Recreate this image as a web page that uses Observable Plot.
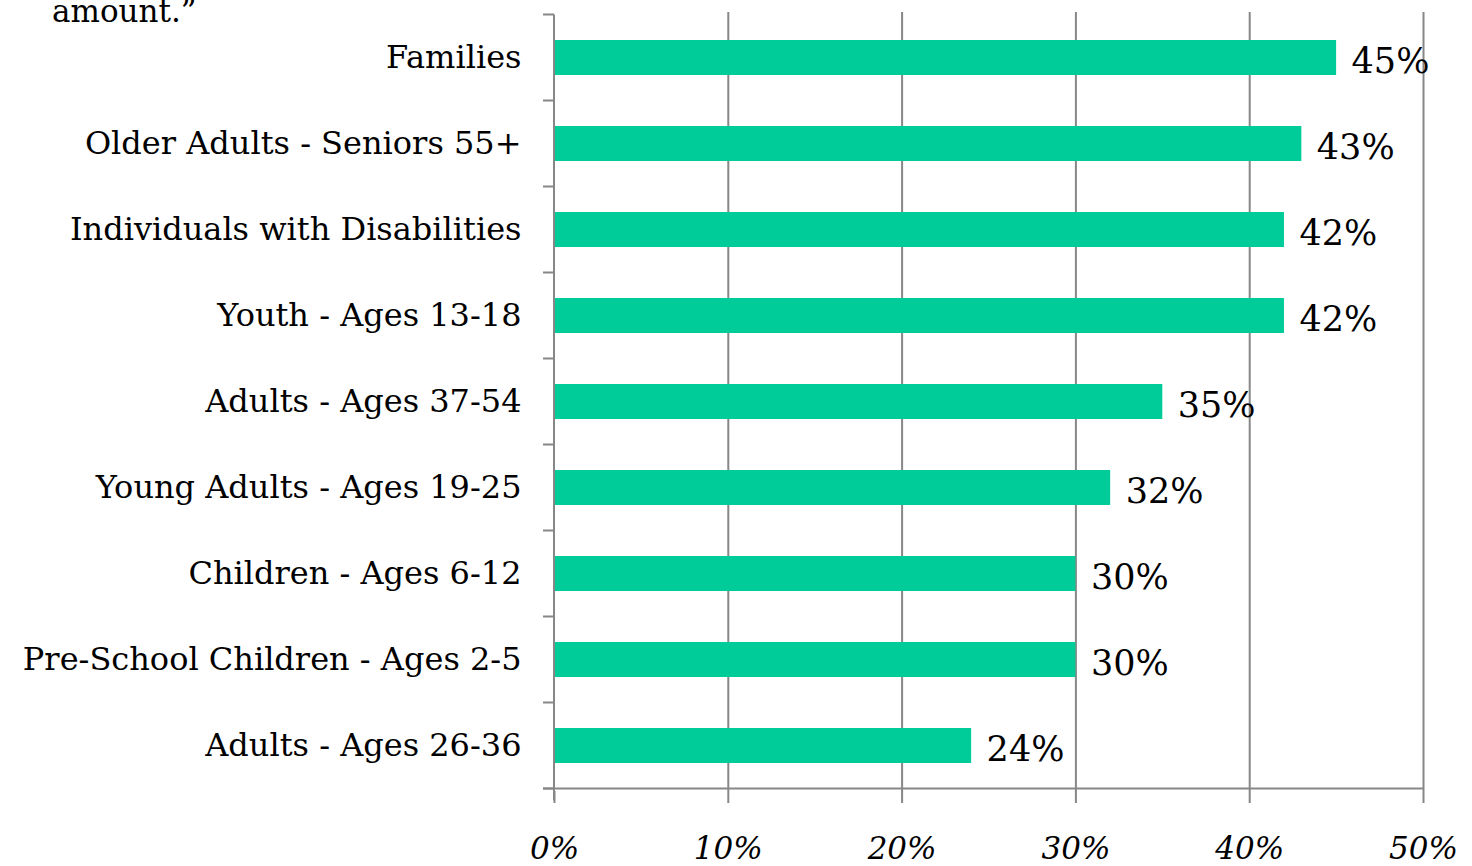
<!DOCTYPE html>
<html>
<head>
<meta charset="utf-8">
<script src="https://cdn.jsdelivr.net/npm/d3@7"></script>
<script src="https://cdn.jsdelivr.net/npm/@observablehq/plot@0.6"></script>
<style>
  html, body { margin: 0; padding: 0; background: #fff; overflow: hidden; }
  #wrap { position: relative; width: 1472px; height: 866px; }
  #title { position: absolute; left: 52px; top: -4px; font-family: "DejaVu Serif", serif; font-size: 31px; line-height: 1; color: #000; white-space: nowrap; }
  #chart { position: absolute; left: 0; top: 0; }
</style>
</head>
<body>
<div id="wrap">
  <div id="chart"></div>
  <div id="title">amount.”</div>
</div>
<script>
const categories = [
  "Families",
  "Older Adults - Seniors 55+",
  "Individuals with Disabilities",
  "Youth - Ages 13-18",
  "Adults - Ages 37-54",
  "Young Adults - Ages 19-25",
  "Children - Ages 6-12",
  "Pre-School Children - Ages 2-5",
  "Adults - Ages 26-36"
];
const values = [45, 43, 42, 42, 35, 32, 30, 30, 24];
const xTicks = [0, 10, 20, 30, 40, 50];
const gridTicks = [10, 20, 30, 40, 50];

const data = categories.map((c, i) => ({category: c, value: values[i]}));
const GRAY = "#878787";
const PAD = 0.595;
const FONT = "'DejaVu Serif', serif";

function axisFrame(index, scales, vals, dims) {
  const x = scales.x, y = scales.y;
  const g = d3.create("svg:g").attr("stroke", GRAY).attr("stroke-width", 2).attr("fill", "none");
  const step = y(categories[1]) - y(categories[0]);
  const bw = typeof y.bandwidth === "function" ? y.bandwidth() : step * (1 - PAD);
  const x0 = x(0);
  const bounds = categories.map(c => y(c) - (step - bw) / 2);
  bounds.push(y(categories[categories.length - 1]) + bw + (step - bw) / 2);
  for (const b of bounds) {
    g.append("line").attr("x1", x0 - 11).attr("x2", x0).attr("y1", b).attr("y2", b);
  }
  const yb = bounds[bounds.length - 1];
  g.append("line").attr("x1", x0 - 11).attr("x2", x(xTicks[xTicks.length - 1])).attr("y1", yb).attr("y2", yb);
  g.append("line").attr("x1", x0).attr("x2", x0).attr("y1", bounds[0]).attr("y2", yb + 12);
  return g.node();
}

const plot = Plot.plot({
  width: 1472,
  height: 866,
  marginLeft: 554,
  marginRight: 49,
  marginTop: 12,
  marginBottom: 75,
  style: { fontFamily: FONT, background: "#fff", color: "#000" },
  x: { domain: [0, 50] },
  y: { domain: categories, paddingInner: PAD, paddingOuter: PAD / 2 },
  marks: [
    Plot.gridX({ ticks: gridTicks, stroke: GRAY, strokeOpacity: 1, strokeWidth: 2 }),
    Plot.barX(data, { x: "value", y: "category", fill: "#00CC99" }),
    Plot.text(data, { x: "value", y: "category", text: d => d.value + "%", textAnchor: "start", dx: 15, dy: 4, fontSize: 35, fontFamily: FONT, fill: "#000" }),
    Plot.axisY({ tickSize: 0, tickPadding: 33, fontSize: 32, fontFamily: FONT, fill: "#000", label: null }),
    Plot.axisX({ ticks: xTicks, tickFormat: d => d + "%", tickSize: 12, tickPadding: 33, fontSize: 31, fontFamily: FONT, fontStyle: "italic", stroke: GRAY, strokeWidth: 2, strokeOpacity: 1, fill: "#000", label: null }),
    axisFrame
  ]
});
document.getElementById("chart").appendChild(plot);
</script>
</body>
</html>
